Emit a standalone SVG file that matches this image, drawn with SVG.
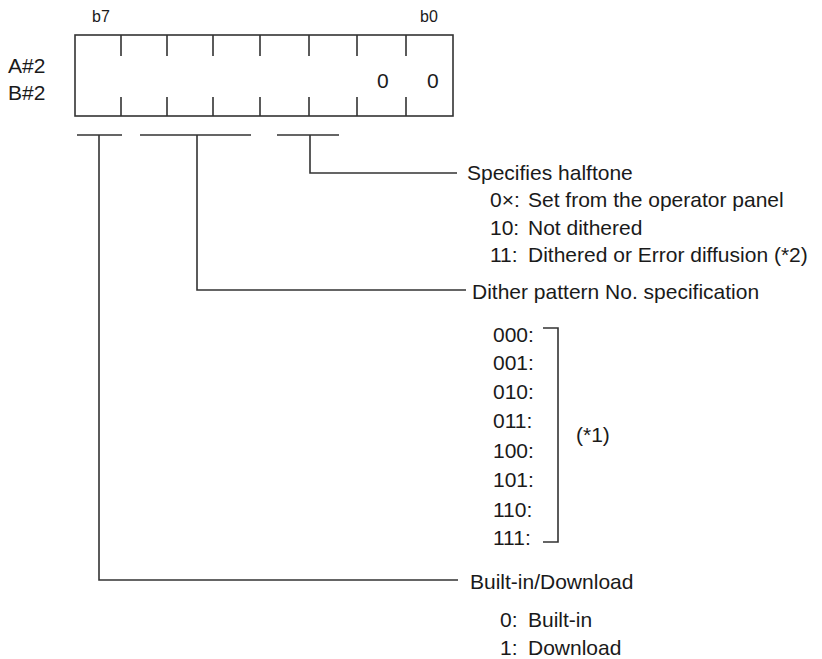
<svg xmlns="http://www.w3.org/2000/svg" width="822" height="659" viewBox="0 0 822 659">
<style>
text{font-family:"Liberation Sans",Arial,sans-serif;font-size:21px;fill:#1a1a1a}
.s{font-size:16px}
.ln{fill:none;stroke:#333;stroke-width:1.6}
</style>
<rect width="822" height="659" fill="#fff"/>
<g id="register">
<text class="s" x="92" y="22">b7</text>
<text class="s" x="420" y="22">b0</text>
<text x="8" y="73">A#2</text>
<text x="8" y="100">B#2</text>
<rect class="ln" x="75" y="35" width="378" height="81"/>
<path class="ln" d="M121 35V56M167 35V56M213 35V56M260 35V56M309 35V56M357 35V56M406 35V56M121 97V116M167 97V116M213 97V116M260 97V116M309 97V116M357 97V116M406 97V116"/>
<text x="377" y="88">0</text>
<text x="427" y="88">0</text>
</g>
<g id="connectors">
<path class="ln" d="M77 135H122M140 135H251M277 135H339"/>
<path class="ln" d="M310 135V173H457"/>
<path class="ln" d="M197 135V290H466"/>
<path class="ln" d="M99 135V580H458"/>
<path class="ln" d="M543 328H558V542H543"/>
</g>
<g id="halftone">
<text x="467" y="180">Specifies halftone</text>
<text x="490" y="207">0×:</text><text x="528" y="207">Set from the operator panel</text>
<text x="490" y="235">10:</text><text x="528" y="235">Not dithered</text>
<text x="490" y="262">11:</text><text x="528" y="262">Dithered or Error diffusion (*2)</text>
</g>
<g id="dither">
<text x="472" y="299">Dither pattern No. specification</text>
<text x="493" y="342">000:</text>
<text x="493" y="370">001:</text>
<text x="493" y="399">010:</text>
<text x="493" y="428">011:</text>
<text x="493" y="458">100:</text>
<text x="493" y="487">101:</text>
<text x="493" y="517">110:</text>
<text x="493" y="545">111:</text>
<text x="576" y="442">(*1)</text>
</g>
<g id="builtin">
<text x="470" y="589">Built-in/Download</text>
<text x="500" y="627">0:</text><text x="528" y="627">Built-in</text>
<text x="500" y="655">1:</text><text x="528" y="655">Download</text>
</g>
</svg>
